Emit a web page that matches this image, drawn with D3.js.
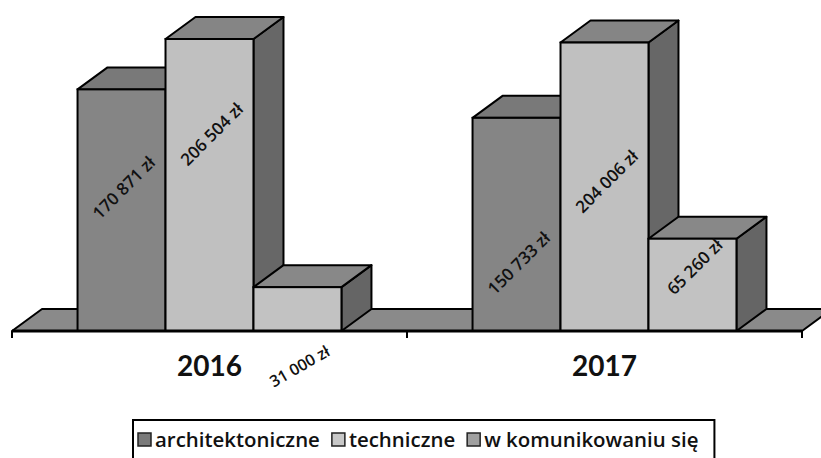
<!DOCTYPE html>
<html>
<head>
<meta charset="utf-8">
<script src="https://cdn.jsdelivr.net/npm/d3@7"></script>
<style>
  html, body { margin: 0; padding: 0; background: #fff; }
  svg { display: block; }
</style>
</head>
<body>
<svg id="chart" width="821" height="458"></svg>
<script>
// ---- data ----
const categories = ["2016", "2017"];
const seriesNames = ["architektoniczne", "techniczne", "w komunikowaniu się"];
const architektoniczne = [170871, 150733];
const techniczne = [206504, 204006];
const komunikowanie = [31000, 65260];
const seriesValues = [architektoniczne, techniczne, komunikowanie];

// ---- styles ----
const faceColors = [
  { front: "#858585", top: "#797979", side: "#666666" },
  { front: "#c0c0c0", top: "#858585", side: "#676767" },
  { front: "#c2c2c2", top: "#888888", side: "#656565" }
];
const floorColor = "#8a8a8a";
const depthX = 30, depthY = -22;
const FONT = "'Open Sans', Lato, sans-serif";

const svg = d3.select("#chart");
const fmt = d3.formatLocale({ decimal: ",", thousands: "\u00a0", grouping: [3], currency: ["", "\u00a0zł"] }).format("$,");

const x0 = d3.scaleBand().domain(categories).range([12, 802]).padding(0);
const x1 = d3.scaleBand().domain(seriesNames).range([0, x0.bandwidth()]).paddingInner(0).paddingOuter(0.745);
const y = d3.scaleLinear().domain([0, 250000]).range([331, 331 - 353.5]);

const base = y(0);
const left = x0.range()[0], right = x0.range()[1];

// floor
svg.append("path")
  .attr("d", `M${left},${base} L${right},${base} L${right + depthX},${base + depthY} L${left + depthX},${base + depthY} Z`)
  .attr("fill", floorColor).attr("stroke", "#000").attr("stroke-width", 2).attr("stroke-linejoin", "round");

// bars
const g = svg.append("g");
categories.forEach((cat, ci) => {
  seriesNames.forEach((s, si) => {
    const v = seriesValues[si][ci];
    const xl = x0(cat) + x1(s), xr = xl + x1.bandwidth();
    const yt = y(v);
    const c = faceColors[si];
    const bar = g.append("g");
    bar.append("path")
      .attr("d", `M${xr},${yt} L${xr + depthX},${yt + depthY} L${xr + depthX},${base + depthY} L${xr},${base} Z`)
      .attr("fill", c.side).attr("stroke", "#000").attr("stroke-width", 2).attr("stroke-linejoin", "round");
    bar.append("path")
      .attr("d", `M${xl},${yt} L${xl + depthX},${yt + depthY} L${xr + depthX},${yt + depthY} L${xr},${yt} Z`)
      .attr("fill", c.top).attr("stroke", "#000").attr("stroke-width", 2).attr("stroke-linejoin", "round");
    bar.append("rect")
      .attr("x", xl).attr("y", yt).attr("width", xr - xl).attr("height", base - yt)
      .attr("fill", c.front).attr("stroke", "#000").attr("stroke-width", 2);
  });
});

// front axis line and ticks
svg.append("line").attr("x1", left).attr("x2", right).attr("y1", base).attr("y2", base)
  .attr("stroke", "#000").attr("stroke-width", 3);
const tickXs = categories.map(c => x0(c)).concat([right]);
svg.selectAll(".tick").data(tickXs).join("line")
  .attr("x1", d => d).attr("x2", d => d).attr("y1", base).attr("y2", base + 7)
  .attr("stroke", "#000").attr("stroke-width", 2);

// category labels
svg.selectAll(".cat").data(categories).join("text")
  .attr("x", d => x0(d) + x0.bandwidth() / 2).attr("y", 376)
  .attr("text-anchor", "middle")
  .attr("font-family", "Lato, 'Open Sans', sans-serif").attr("font-weight", 700).attr("font-size", 28)
  .attr("fill", "#111").text(d => d);

// value labels (fraction of bar height where the label centre sits; null = below the axis)
const labelFrac = [[0.595, 0.675, null], [0.32, 0.52, 0.70]];
categories.forEach((cat, ci) => {
  seriesNames.forEach((s, si) => {
    const v = seriesValues[si][ci];
    const cx = x0(cat) + x1(s) + x1.bandwidth() / 2 + 2;
    const f = labelFrac[ci][si];
    let cy, ang, size;
    if (f === null) { cy = base + 35; ang = -30; size = 16; }
    else { cy = base - (base - y(v)) * f; ang = -45; size = 17; }
    svg.append("text")
      .attr("transform", `translate(${cx},${cy}) rotate(${ang})`)
      .attr("text-anchor", "middle").attr("dominant-baseline", "central")
      .attr("font-family", FONT).attr("font-weight", 600).attr("font-size", size)
      .attr("fill", "#111").text(fmt(v));
  });
});

// legend
const lg = svg.append("g");
const legendBox = lg.append("rect").attr("y", 420).attr("height", 60)
  .attr("fill", "#fff").attr("stroke", "#000").attr("stroke-width", 2);
let lx = 138;
const iconFill = ["#7a7a7a", "#c8c8c8", "#a0a0a0"];
const probe = lg.append("text").attr("font-family", FONT).attr("font-weight", 600).attr("font-size", 20).text(seriesNames[0]);
const legendSize = 20 * 165 / probe.node().getComputedTextLength();
probe.remove();
seriesNames.forEach((s, si) => {
  lg.append("rect").attr("x", lx).attr("y", 433).attr("width", 13).attr("height", 13)
    .attr("fill", iconFill[si]).attr("stroke", "#222").attr("stroke-width", 1.5);
  const t = lg.append("text").attr("x", lx + 17).attr("y", 447)
    .attr("font-family", FONT).attr("font-weight", 600).attr("font-size", legendSize)
    .attr("fill", "#111").text(s);
  lx = lx + 17 + t.node().getComputedTextLength() + 12;
});
legendBox.attr("x", 133).attr("width", lx - 133 + 4);
</script>
</body>
</html>
